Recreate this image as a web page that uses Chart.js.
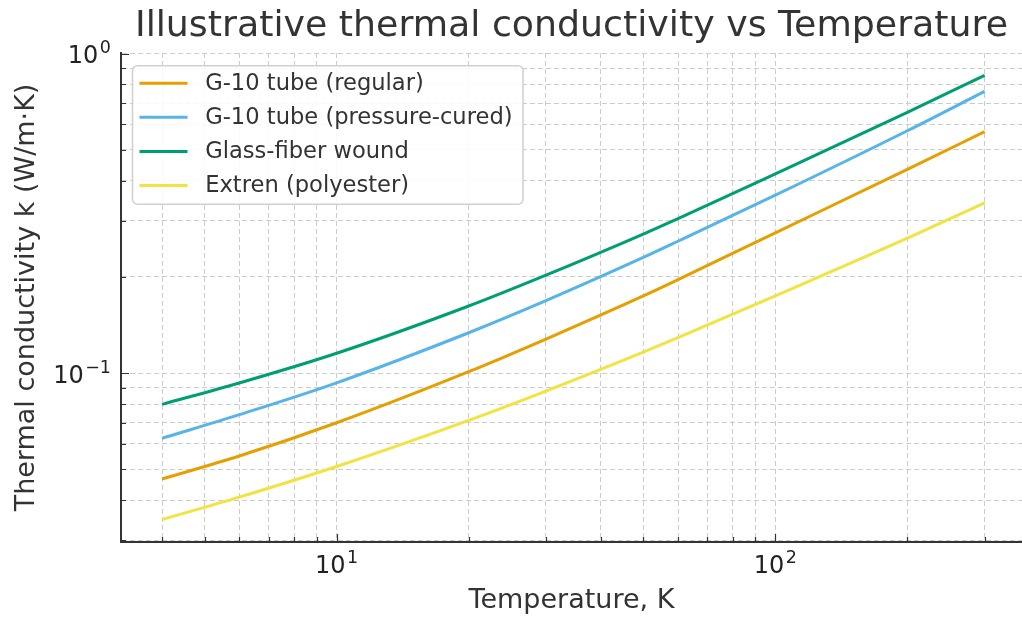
<!DOCTYPE html>
<html>
<head>
<meta charset="utf-8">
<title>Illustrative thermal conductivity vs Temperature</title>
<script src="https://cdn.jsdelivr.net/npm/chart.js@4.4.0/dist/chart.umd.min.js"></script>
<style>
  html, body { margin: 0; padding: 0; background: #ffffff; overflow: hidden; }
  #wrap { width: 1022px; height: 617px; position: relative; }
</style>
</head>
<body>
<div id="wrap"><canvas id="chart" width="1022" height="617"></canvas></div>
<script>
// Temperature points (K) and conductivity k (W/m·K) for each material
const temperatures = [4, 6, 10, 20, 30, 50, 60, 100, 200, 300];
const g10Regular   = [0.0466, 0.0550, 0.0699, 0.1010, 0.1278, 0.1744, 0.1961, 0.2747, 0.4340, 0.5692];
const g10Pressure  = [0.0625, 0.0741, 0.0932, 0.1337, 0.1685, 0.2300, 0.2585, 0.3603, 0.5733, 0.7613];
const glassFiber   = [0.0798, 0.0931, 0.1153, 0.1621, 0.2025, 0.2723, 0.3042, 0.4198, 0.6540, 0.8547];
const extren       = [0.0348, 0.0409, 0.0510, 0.0711, 0.0878, 0.1162, 0.1290, 0.1744, 0.2642, 0.3410];

const seriesLabels = ['G-10 tube (regular)', 'G-10 tube (pressure-cured)', 'Glass-fiber wound', 'Extren (polyester)'];
const seriesColors = ['#E69F00', '#56B4E9', '#009E73', '#F0E442'];

// Tick positions and labels (labels are written as base with a raised exponent)
const xMajorTicks     = [10, 100];
const xMajorExponents = ['1', '2'];
const xMinorTicks     = [4, 5, 6, 7, 8, 9, 20, 30, 40, 50, 60, 70, 80, 90, 200, 300];
const yMajorTicks     = [0.1, 1];
const yMajorExponents = ['−1', '0'];
const yMinorTicks     = [0.03, 0.04, 0.05, 0.06, 0.07, 0.08, 0.09, 0.2, 0.3, 0.4, 0.5, 0.6, 0.7, 0.8, 0.9];
const tickBase        = '10';

const FONT = '"DejaVu Sans", "Liberation Sans", sans-serif';

function toPoints(values) {
  return temperatures.map((t, i) => ({ x: t, y: values[i] }));
}

function tickList(major, minor) {
  return major.concat(minor).sort((a, b) => a - b)
    .map(v => ({ value: v, major: major.includes(v) }));
}

// Short inward tick marks on the left and bottom axes
const tickMarks = {
  id: 'tickMarks',
  afterDraw(chart) {
    const { ctx, chartArea } = chart;
    const xs = chart.scales.x, ys = chart.scales.y;
    ctx.save();
    ctx.strokeStyle = '#333333';
    ctx.lineWidth = 1.2;
    ctx.beginPath();
    xs.ticks.forEach(t => {
      const px = Math.round(xs.getPixelForValue(t.value)) + 0.5;
      const len = t.major ? 8 : 5;
      ctx.moveTo(px, chartArea.bottom);
      ctx.lineTo(px, chartArea.bottom - len);
    });
    ys.ticks.forEach(t => {
      const py = Math.round(ys.getPixelForValue(t.value)) + 0.5;
      const len = t.major ? 8 : 5;
      ctx.moveTo(chartArea.left, py);
      ctx.lineTo(chartArea.left + len, py);
    });
    ctx.stroke();
    ctx.restore();
  }
};

// Power-of-ten labels at the major ticks
function drawPower(ctx, exp, x, baseline, align) {
  const mainFont = '24px ' + FONT, supFont = '17.5px ' + FONT;
  ctx.font = mainFont;
  const wBase = ctx.measureText(tickBase).width;
  ctx.font = supFont;
  const wExp = ctx.measureText(exp).width;
  const gap = 1.5;
  const total = wBase + gap + wExp;
  const sx = align === 'center' ? x - total / 2 : x - total;
  ctx.font = mainFont;
  ctx.fillText(tickBase, sx, baseline);
  ctx.font = supFont;
  ctx.fillText(exp, sx + wBase + gap, baseline - 10);
}

const tickLabels = {
  id: 'tickLabels',
  afterDraw(chart) {
    const { ctx, chartArea } = chart;
    const xs = chart.scales.x, ys = chart.scales.y;
    ctx.save();
    ctx.fillStyle = '#222222';
    ctx.textAlign = 'left';
    ctx.textBaseline = 'alphabetic';
    xMajorTicks.forEach((v, i) => {
      drawPower(ctx, xMajorExponents[i], xs.getPixelForValue(v), chartArea.bottom + 31, 'center');
    });
    yMajorTicks.forEach((v, i) => {
      drawPower(ctx, yMajorExponents[i], chartArea.left - 10, ys.getPixelForValue(v) + 9.8, 'right');
    });
    ctx.restore();
  }
};

// Legend box drawn in the upper-left corner of the plot area
const insideLegend = {
  id: 'insideLegend',
  afterDatasetsDraw(chart) {
    const { ctx, chartArea } = chart;
    const sets = chart.data.datasets;
    ctx.save();
    ctx.font = '22.6px ' + FONT;
    const maxText = Math.max(...sets.map(d => ctx.measureText(d.label).width));
    const padL = 7, sampleLen = 48, gap = 17.7, padR = 10.5;
    const rowH = 34.1, firstRow = 17.6;
    const bx = chartArea.left + 11.5, by = chartArea.top + 12.7;
    const bw = padL + sampleLen + gap + maxText + padR;
    const bh = firstRow * 2 + rowH * (sets.length - 1) + 1;
    const r = 5;
    ctx.beginPath();
    ctx.moveTo(bx + r, by);
    ctx.lineTo(bx + bw - r, by);
    ctx.arcTo(bx + bw, by, bx + bw, by + r, r);
    ctx.lineTo(bx + bw, by + bh - r);
    ctx.arcTo(bx + bw, by + bh, bx + bw - r, by + bh, r);
    ctx.lineTo(bx + r, by + bh);
    ctx.arcTo(bx, by + bh, bx, by + bh - r, r);
    ctx.lineTo(bx, by + r);
    ctx.arcTo(bx, by, bx + r, by, r);
    ctx.closePath();
    ctx.fillStyle = 'rgba(255,255,255,0.85)';
    ctx.fill();
    ctx.strokeStyle = '#d0d0d0';
    ctx.lineWidth = 1.5;
    ctx.stroke();
    sets.forEach((d, i) => {
      const cy = by + firstRow + i * rowH;
      ctx.strokeStyle = d.borderColor;
      ctx.lineWidth = 3;
      ctx.beginPath();
      ctx.moveTo(bx + padL, cy);
      ctx.lineTo(bx + padL + sampleLen, cy);
      ctx.stroke();
      ctx.fillStyle = '#333333';
      ctx.textBaseline = 'middle';
      ctx.textAlign = 'left';
      ctx.fillText(d.label, bx + padL + sampleLen + gap, cy + 1);
    });
    ctx.restore();
  }
};

const seriesValues = [g10Regular, g10Pressure, glassFiber, extren];

new Chart(document.getElementById('chart'), {
  type: 'line',
  data: {
    datasets: seriesValues.map((vals, i) => ({
      label: seriesLabels[i],
      data: toPoints(vals),
      borderColor: seriesColors[i],
      backgroundColor: seriesColors[i],
      borderWidth: 3,
      pointRadius: 0,
      fill: false,
      cubicInterpolationMode: 'monotone'
    }))
  },
  options: {
    responsive: false,
    animation: false,
    devicePixelRatio: 1,
    layout: { padding: { top: 0, left: 0, right: 0, bottom: 0 } },
    plugins: {
      legend: { display: false },
      tooltip: { enabled: false },
      title: {
        display: true,
        text: 'Illustrative thermal conductivity vs Temperature',
        fullSize: false,
        color: '#333333',
        font: { family: FONT, size: 36.3, weight: 'normal' },
        padding: { top: 5, bottom: 4.4 }
      }
    },
    scales: {
      x: {
        type: 'logarithmic',
        min: 3.224,
        max: 365,
        bounds: 'data',
        afterBuildTicks: s => { s.ticks = tickList(xMajorTicks, xMinorTicks); },
        afterFit: s => { s.height = 75; },
        ticks: { display: false, autoSkip: false, maxRotation: 0 },
        grid: { color: '#cccccc', lineWidth: 1, drawTicks: false },
        border: { display: true, color: '#333333', width: 2, dash: [5, 3] },
        title: {
          display: true,
          text: 'Temperature, K',
          color: '#333333',
          font: { family: FONT, size: 27 },
          padding: { top: 0, bottom: 0 }
        }
      },
      y: {
        type: 'logarithmic',
        min: 0.0296,
        max: 1.004,
        bounds: 'data',
        afterBuildTicks: s => { s.ticks = tickList(yMajorTicks, yMinorTicks); },
        afterFit: s => { s.width = 121; },
        ticks: { display: false, autoSkip: false },
        grid: { color: '#cccccc', lineWidth: 1, drawTicks: false },
        border: { display: true, color: '#333333', width: 2, dash: [5, 3] },
        title: {
          display: true,
          text: 'Thermal conductivity k (W/m·K)',
          color: '#333333',
          font: { family: FONT, size: 27 },
          padding: { top: 11, bottom: 0 }
        }
      }
    }
  },
  plugins: [insideLegend, tickMarks, tickLabels]
});
</script>
</body>
</html>
